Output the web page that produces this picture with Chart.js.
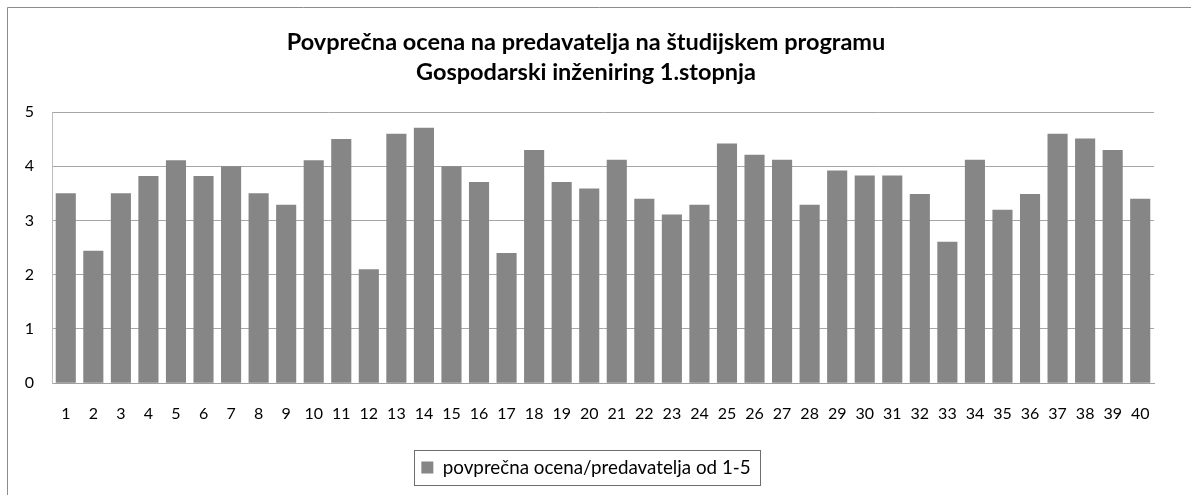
<!DOCTYPE html>
<html>
<head>
<meta charset="utf-8">
<script src="https://cdn.jsdelivr.net/npm/chart.js@4/dist/chart.umd.min.js"></script>
<style>
  html, body { margin: 0; padding: 0; background: #fff; }
  #wrap { position: absolute; left: 0; top: 0; width: 1191px; height: 495px; }
</style>
</head>
<body>
<div id="wrap"><canvas id="c" width="1191" height="495"></canvas></div>
<script>
const categories = ["1","2","3","4","5","6","7","8","9","10","11","12","13","14","15","16","17","18","19","20",
                    "21","22","23","24","25","26","27","28","29","30","31","32","33","34","35","36","37","38","39","40"];
const values = [3.5, 2.44, 3.5, 3.82, 4.11, 3.82, 4.0, 3.5, 3.29, 4.11,
                4.5, 2.1, 4.6, 4.71, 4.0, 3.71, 2.4, 4.3, 3.71, 3.59,
                4.12, 3.4, 3.11, 3.29, 4.42, 4.21, 4.12, 3.29, 3.92, 3.83,
                3.83, 3.49, 2.61, 4.12, 3.2, 3.49, 4.6, 4.51, 4.3, 3.4];
const seriesName = "povprečna ocena/predavatelja od 1-5";
const titleLines = ["Povprečna ocena na predavatelja na študijskem programu", "Gospodarski inženiring 1.stopnja"];
const yTicks = [0, 1, 2, 3, 4, 5];

const FONT = "Lato, 'Open Sans', sans-serif";

// fit font sizes so text widths match the reference
function fitSize(text, weight, targetWidth) {
  const ctx = document.createElement('canvas').getContext('2d');
  ctx.font = weight + ' 100px ' + FONT;
  const w = ctx.measureText(text).width;
  return Math.round(100 * targetWidth / w * 10) / 10;
}
const titleSize = Math.min(23.5, fitSize(titleLines[0], 'bold', 605));
const legendSize = Math.min(19, fitSize(seriesName, 'normal', 308));

const framePlugin = {
  id: 'frame',
  beforeDraw(chart) {
    const ctx = chart.ctx;
    ctx.save();
    ctx.fillStyle = '#ffffff';
    ctx.fillRect(0, 0, chart.width, chart.height);
    ctx.strokeStyle = '#8c8c8c';
    ctx.lineWidth = 1;
    ctx.beginPath();
    ctx.moveTo(7.5, chart.height);
    ctx.lineTo(7.5, 7.5);
    ctx.lineTo(chart.width, 7.5);
    ctx.stroke();
    ctx.restore();
  },
  afterDraw(chart) {
    const lg = chart.legend;
    if (!lg || !lg.legendHitBoxes || !lg.legendHitBoxes.length) return;
    const h = lg.legendHitBoxes[0];
    const ctx = chart.ctx;
    ctx.save();
    ctx.strokeStyle = '#6e6e6e';
    ctx.lineWidth = 1;
    const x0 = Math.round(h.left - 7) + 0.5;
    const x1 = Math.round(h.left + h.width + 9) + 0.5;
    const cy = h.top + h.height / 2;
    const y0 = Math.round(cy - 17.5) + 0.5;
    const y1 = Math.round(cy + 17.5) + 0.5;
    ctx.strokeRect(x0, y0, x1 - x0, y1 - y0);
    ctx.restore();
  }
};

new Chart(document.getElementById('c'), {
  type: 'bar',
  data: {
    labels: categories,
    datasets: [{
      label: seriesName,
      data: values,
      backgroundColor: '#868686',
      borderWidth: 0,
      categoryPercentage: 1.0,
      barPercentage: 0.73
    }]
  },
  options: {
    responsive: false,
    animation: false,
    devicePixelRatio: 1,
    layout: { padding: { left: 18, right: 37, top: 0, bottom: 8 } },
    plugins: {
      title: {
        display: true,
        text: titleLines,
        color: '#000',
        font: { family: FONT, size: titleSize, weight: 'bold', lineHeight: 30 / titleSize },
        padding: { top: 27, bottom: 25 }
      },
      legend: {
        display: true,
        position: 'bottom',
        labels: {
          color: '#000',
          font: { family: FONT, size: legendSize },
          boxWidth: 12,
          boxHeight: 12,
          padding: 15
        }
      },
      tooltip: { enabled: false }
    },
    scales: {
      x: {
        grid: { display: false, drawTicks: false },
        border: { display: true, color: '#a0a0a0', width: 1 },
        ticks: { color: '#000', font: { family: FONT, size: 16 }, padding: 21, maxRotation: 0, autoSkip: false },
        afterFit(scale) { scale.height = 60; }
      },
      y: {
        min: 0, max: 5,
        afterBuildTicks(scale) { scale.ticks = yTicks.map(v => ({ value: v })); },
        grid: { color: '#a6a6a6', lineWidth: 1, drawTicks: false },
        border: { display: true, color: '#bdbdbd', width: 1 },
        ticks: { color: '#000', font: { family: FONT, size: 16 }, padding: 18 },
        afterFit(scale) { scale.width = 34; }
      }
    }
  },
  plugins: [framePlugin]
});
</script>
</body>
</html>
